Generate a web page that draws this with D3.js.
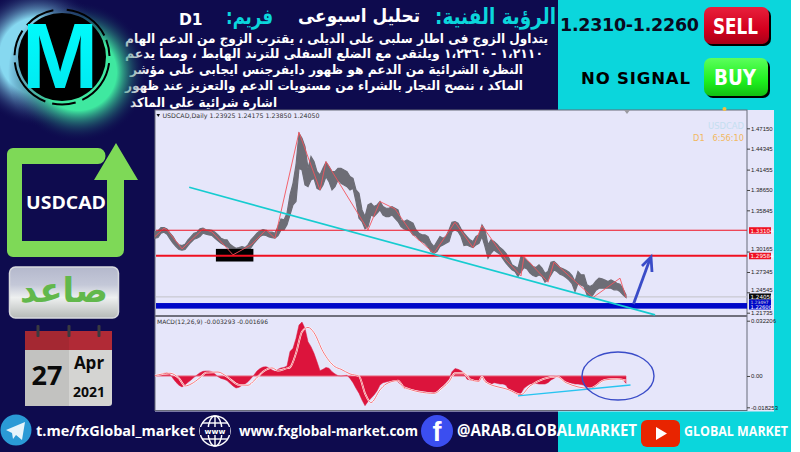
<!DOCTYPE html>
<html>
<head>
<meta charset="utf-8">
<script src="https://cdnjs.cloudflare.com/ajax/libs/d3/7.8.5/d3.min.js"></script>
<style>
  body { margin: 0; background: #fff; }
  svg { display: block; font-family: "DejaVu Sans", sans-serif; }
</style>
</head>
<body>
<div id="chart"></div>
<script>
// daily bars
var barHigh = [1.3292,1.3301,1.3347,1.3347,1.3329,1.3269,1.3223,1.3154,1.3108,1.3099,1.3117,1.3177,1.3223,1.3269,1.3283,1.3329,1.3338,1.3315,1.3315,1.3310,
  1.3283,1.3246,1.3200,1.3182,1.3177,1.3117,1.3085,1.3062,1.3071,1.3085,1.3071,1.3108,1.3177,1.3223,1.3269,1.3301,1.3319,1.3310,1.3283,1.3283,
  1.3269,1.3361,1.3466,1.3452,1.3544,1.3797,1.3957,1.4210,1.4646,1.4577,1.4462,1.4164,1.4325,1.4256,1.4118,1.4072,1.4164,1.4247,1.4187,1.4118,
  1.4118,1.4164,1.4164,1.4141,1.4118,1.4049,1.4026,1.3866,1.3820,1.3590,1.3498,1.3659,1.3682,1.3636,1.3659,1.3705,1.3636,1.3613,1.3613,1.3636,
  1.3613,1.3590,1.3452,1.3430,1.3452,1.3430,1.3407,1.3315,1.3269,1.3246,1.3246,1.3223,1.3131,1.3085,1.3154,1.3223,1.3200,1.3223,1.3315,1.3420,
  1.3430,1.3407,1.3329,1.3269,1.3223,1.3177,1.3154,1.3223,1.3246,1.3384,1.3315,1.3108,1.3177,1.3154,1.3117,1.3071,1.3039,1.2993,1.2925,1.2833,
  1.2810,1.2787,1.2948,1.2934,1.2888,1.2856,1.2810,1.2796,1.2833,1.2787,1.2718,1.2741,1.2870,1.2879,1.2842,1.2796,1.2778,1.2759,1.2732,1.2686,
  1.2603,1.2741,1.2695,1.2695,1.2557,1.2534,1.2557,1.2612,1.2649,1.2640,1.2622,1.2603,1.2626,1.2603,1.2580,1.2567,1.2502,1.2420];
var barLow = [1.3200,1.3209,1.3269,1.3283,1.3255,1.3191,1.3131,1.3085,1.3044,1.3035,1.3044,1.3099,1.3145,1.3186,1.3200,1.3223,1.3269,1.3255,1.3246,1.3237,
  1.3200,1.3163,1.3131,1.3108,1.3085,1.3053,1.2993,1.2980,1.2993,1.3007,1.2993,1.3026,1.3071,1.3131,1.3177,1.3223,1.3246,1.3237,1.3218,1.3209,
  1.3200,1.3237,1.3315,1.3315,1.3384,1.3521,1.3659,1.3705,1.4164,1.4141,1.3934,1.3911,1.4003,1.4026,1.3889,1.3866,1.3934,1.4049,1.3980,1.3866,
  1.3911,1.4003,1.3957,1.3934,1.3911,1.3866,1.3889,1.3705,1.3475,1.3430,1.3329,1.3361,1.3521,1.3498,1.3544,1.3590,1.3521,1.3498,1.3498,1.3521,
  1.3475,1.3430,1.3361,1.3329,1.3315,1.3301,1.3246,1.3237,1.3177,1.3154,1.3131,1.3085,1.3016,1.2993,1.3016,1.3085,1.3108,1.3131,1.3154,1.3292,
  1.3315,1.3292,1.3223,1.3099,1.3108,1.3085,1.3071,1.3108,1.3131,1.3223,1.3085,1.2925,1.2993,1.3039,1.3007,1.2980,1.2915,1.2856,1.2810,1.2764,
  1.2741,1.2672,1.2741,1.2796,1.2778,1.2718,1.2686,1.2672,1.2695,1.2672,1.2594,1.2626,1.2695,1.2764,1.2741,1.2704,1.2686,1.2658,1.2622,1.2576,
  1.2466,1.2580,1.2557,1.2534,1.2420,1.2383,1.2420,1.2484,1.2512,1.2512,1.2512,1.2512,1.2512,1.2489,1.2489,1.2466,1.2420,1.2383];

// zigzag drawn over the bars
var zigzagBar = [0,3,4,9,16,19,26,32,37,40,48,55,57,71,75,80,86,93,100,106,109,117,122,123,131,133,146,155,157];
var zigzagPrice = [1.3223,1.3338,1.3315,1.3053,1.3329,1.3287,1.2971,1.3108,1.3315,1.3200,1.4660,1.3866,1.4256,1.3315,1.3705,1.3604,1.3246,1.2993,1.3420,1.3071,1.3374,1.2902,1.2681,1.2948,1.2594,1.2870,1.2383,1.2649,1.2383];

// MACD histogram, one value per bar
var macdValues = [.0002,.0004,.0010,.0016,.0019,.0010,-.0014,-.0037,-.0054,-.0064,-.0052,-.0037,-.0023,-.0008,.0006,.0019,.0027,.0029,.0029,.0025,
  .0012,-.0004,-.0014,-.0019,-.0027,-.0043,-.0058,-.0070,-.0066,-.0054,-.0047,-.0033,-.0014,.0006,.0029,.0043,.0052,.0054,.0047,.0035,
  .0027,.0039,.0047,.0050,.0058,.0142,.0161,.0219,.0297,.0314,.0277,.0200,.0171,.0132,.0083,.0031,.0039,.0050,.0045,.0025,
  .0012,.0002,0,.0002,.0004,-.0014,-.0039,-.0072,-.0101,-.0140,-.0173,-.0149,-.0130,-.0111,-.0087,-.0052,-.0039,-.0035,-.0031,-.0029,
  -.0025,-.0033,-.0052,-.0072,-.0074,-.0076,-.0080,-.0083,-.0085,-.0089,-.0091,-.0093,-.0097,-.0101,-.0091,-.0072,-.0058,-.0039,-.0019,.0025,
  .0043,.0039,.0031,.0016,-.0019,-.0023,-.0027,-.0027,-.0033,0,-.0019,-.0043,-.0050,-.0039,-.0043,-.0047,-.0047,-.0054,-.0081,-.0091,
  -.0101,-.0109,-.0101,-.0072,-.0058,-.0047,-.0047,-.0043,-.0047,-.0047,-.0047,-.0039,-.0023,-.0014,0,-.0014,-.0027,-.0033,-.0039,-.0043,
  -.0047,-.0047,-.0050,-.0054,-.0066,-.0070,-.0066,-.0058,-.0043,-.0027,-.0019,-.0016,-.0016,-.0016,-.0016,-.0017,-.0023,-.0043];
var signalBar = [0,5,8,10,12,15,17,21,24,28,31,33,36,39,41,44,45,47,49,51,53,56,60,62,65,68,70,72,75,77,81,83,93,96,98,100,103,105,108,109,110,118,122,125,134,137,145,150,154,157];
var signalValues = [.0002,.0016,-.0014,-.0058,-.0047,-.0010,.0019,.0023,-.0004,-.0052,-.0054,-.0027,.0025,.0047,.0031,.0045,.0050,.0132,.0258,.0283,.0252,.0142,.0054,.0039,.0012,-.0002,-.0101,-.0155,-.0081,-.0047,-.0027,-.0066,-.0101,-.0066,-.0033,.0016,.0016,-.0019,-.0031,-.0004,-.0033,-.0081,-.0109,-.0058,-.0004,-.0039,-.0072,-.0023,-.0017,-.0027];

// axis ticks and levels
var priceTicks = [1.4715,1.44345,1.41455,1.3865,1.35845,1.30165,1.27345,1.24545,1.21735];
var macdTicks = [0.032206,0,-0.018253];
var macdTickLabels = ["0.032206","0.00","-0.018253"];
var redLevels = [1.33104,1.29584];
var redWidths = [1.1,1.8];
var priceBoxes = [1.33104,1.29584];
var supportLevel = 1.2268;
var lastPrice = 1.2405;

// ends of the drawn trend lines
var trendBars = [11.4,166.7];
var trendPrices = [1.3902,1.2144];
var macdTrendBars = [121,158.5];
var macdTrendValues = [-.0116,-.0053];

// texts
var headerLines = [
  "يتداول الزوج فى اطار سلبى على الديلى ، يقترب الزوج من الدعم الهام",
  "١،٢١١٠ - ١،٢٣٦٠ ويلتقى مع الضلع السفلى للترند الهابط ، ومما يدعم",
  "النظرة الشرائية من الدعم هو ظهور دايفرجنس ايجابى على مؤشر",
  "الماكد ، ننصح التجار بالشراء من مستويات الدعم والتعزيز عند ظهور",
  "اشارة شرائية على الماكد"
];

var navy = "#0e0b4e", teal = "#0bd6dc", lavender = "#e6e6fa", green = "#7ed957";

var svg = d3.select("#chart").append("svg").attr("width", 800).attr("height", 452);
var defs = svg.append("defs");

function addGradient(id, stops, x2, y2) {
  var g = defs.append("linearGradient").attr("id", id)
    .attr("x1", 0).attr("y1", 0).attr("x2", x2).attr("y2", y2);
  stops.forEach(function(s) {
    g.append("stop").attr("offset", s[0]).attr("stop-color", s[1]);
  });
}
addGradient("sellFill", [[0, "#e8203c"], [.6, "#d4001e"], [1, "#a80018"]], 0, 1);
addGradient("buyFill", [[0, "#5cff5c"], [.6, "#1ef01e"], [1, "#12c012"]], 0, 1);
addGradient("logoFill", [[0, "#b4b8cc"], [.35, "#c4c8d8"], [.6, "#eef0f0"], [1, "#b6bab8"]], 0, 1);
addGradient("mFill", [[0, "#00ffff"], [1, "#00e6ee"]], 0, 1);

var glowBlue = defs.append("radialGradient").attr("id", "glowBlue");
glowBlue.append("stop").attr("offset", .55).attr("stop-color", "#86d8f0");
glowBlue.append("stop").attr("offset", 1).attr("stop-color", navy).attr("stop-opacity", 0);
var glowGreen = defs.append("radialGradient").attr("id", "glowGreen");
glowGreen.append("stop").attr("offset", .55).attr("stop-color", "#3fe8a0");
glowGreen.append("stop").attr("offset", 1).attr("stop-color", navy).attr("stop-opacity", 0);

// backgrounds
svg.append("rect").attr("width", 791).attr("height", 452).attr("fill", navy);
svg.append("rect").attr("x", 558).attr("width", 233).attr("height", 452).attr("fill", teal);

// main panel
svg.append("rect").attr("x", 155).attr("y", 110).attr("width", 619).attr("height", 301.5)
  .attr("fill", lavender);
svg.append("rect").attr("x", 155).attr("y", 110).attr("width", 592).attr("height", 300.5)
  .attr("fill", "none").attr("stroke", "#666a78").attr("stroke-width", 1);
svg.append("rect").attr("x", 155).attr("y", 315).attr("width", 592).attr("height", 2).attr("fill", "#70707c");

var x = d3.scaleLinear().domain([0, 157]).range([155, 626]);
var y = d3.scaleLinear().domain([1.4715, 1.21735]).range([128.3, 312.7]);
var yMacd = d3.scaleLinear().domain([0.032206, -0.018253]).range([320.7, 407.3]);
var bars = d3.range(barHigh.length);

var priceAxis = d3.axisRight(y).tickValues(priceTicks).tickSize(3).tickFormat(d3.format(".5f"));
var macdAxis = d3.axisRight(yMacd).tickValues(macdTicks).tickSize(3)
  .tickFormat(function(d, i) { return macdTickLabels[i]; });
[svg.append("g").attr("transform", "translate(747,0)").call(priceAxis),
 svg.append("g").attr("transform", "translate(747,0)").call(macdAxis)].forEach(function(g) {
  g.select(".domain").remove();
  g.selectAll("text").attr("x", 4).attr("font-size", 6).attr("fill", "#222");
  g.selectAll("line").attr("stroke", "#444");
});
// these two sit just above the boxes on the scale
svg.selectAll("g.tick").filter(function(d) { return d === 1.30165 || d === 1.24545; })
  .selectAll("text").attr("dy", "-.1em");

// price pane
svg.append("line").attr("x1", 156).attr("x2", 747).attr("y1", y(lastPrice) + 1).attr("y2", y(lastPrice) + 1)
  .attr("stroke", "#c2c2c8").attr("stroke-width", 1);

// the bars run together into one band at this width
var barBand = d3.area()
  .x(function(d) { return x(d); })
  .y0(function(d) { return y(barLow[d]); })
  .y1(function(d) { return y(barHigh[d]); });
svg.append("path").attr("d", barBand(bars)).attr("fill", "#6d6d76")
  .attr("stroke", "#6d6d76").attr("stroke-width", 1.2).attr("stroke-linejoin", "miter");

// black box hiding the old low
svg.append("rect").attr("x", x(20.3)).attr("width", x(32.8) - x(20.3))
  .attr("y", y(1.3053)).attr("height", y(1.2879) - y(1.3053)).attr("fill", "#000");

var zigzagLine = d3.line()
  .x(function(d, i) { return x(zigzagBar[i]); })
  .y(function(d) { return y(d); });
svg.append("path").attr("d", zigzagLine(zigzagPrice))
  .attr("fill", "none").attr("stroke", "#f4545c").attr("stroke-width", .9);

svg.selectAll(".level").data(redLevels).enter().append("line").attr("class", "level")
  .attr("x1", 156).attr("x2", 747)
  .attr("y1", function(d) { return y(d); }).attr("y2", function(d) { return y(d); })
  .attr("stroke", "#f01020").attr("stroke-width", function(d, i) { return redWidths[i]; });

svg.append("rect").attr("x", 156).attr("width", 591).attr("y", y(supportLevel) - 2.8).attr("height", 5.6)
  .attr("fill", "#0008c8");

svg.append("line").attr("x1", x(trendBars[0])).attr("x2", x(trendBars[1]))
  .attr("y1", y(trendPrices[0])).attr("y2", y(trendPrices[1]))
  .attr("stroke", "#16ccd0").attr("stroke-width", 1.7);

// blue arrow up from the support
var arrowColor = "#3a4cc8";
svg.append("line").attr("x1", 633.5).attr("y1", 304).attr("x2", 650).attr("y2", 259)
  .attr("stroke", arrowColor).attr("stroke-width", 2.8);
svg.append("path").attr("d", "M642,266L651,257L652,272").attr("fill", "none")
  .attr("stroke", arrowColor).attr("stroke-width", 2.8);

// price boxes on the scale
priceBoxes.forEach(function(d) {
  svg.append("rect").attr("x", 749).attr("y", y(d) - 3).attr("width", 22).attr("height", 6.5).attr("fill", "#f01020");
  svg.append("text").attr("x", 750.5).attr("y", y(d) + 2.4).attr("font-size", 5.6).attr("fill", "#fff")
    .text(d3.format(".5f")(d));
});
svg.append("rect").attr("x", 749).attr("y", 293.5).attr("width", 22).attr("height", 6).attr("fill", "#0a0a0a");
svg.append("text").attr("x", 750.5).attr("y", 298.6).attr("font-size", 5.6).attr("fill", "#fff").text("1.24050");
svg.append("rect").attr("x", 749).attr("y", 299.5).attr("width", 22).attr("height", 10).attr("fill", "#0008c8");
svg.append("text").attr("x", 750.5).attr("y", 304).attr("font-size", 4.4).attr("fill", "#ddd").text("1.23497");
svg.append("text").attr("x", 750.5).attr("y", 308.8).attr("font-size", 5.2).attr("fill", "#fff").text("1.22600");

svg.append("path").attr("d", "M156.5,114l3.5,0l-1.7,3z").attr("fill", "#111");
svg.append("text").attr("x", 162.5).attr("y", 118).attr("font-size", 6.3).attr("fill", "#333")
  .text("USDCAD,Daily  1.23925 1.24175 1.23850 1.24050");
svg.append("text").attr("x", 744).attr("y", 129).attr("text-anchor", "end").attr("font-size", 8.4)
  .attr("fill", "#c4def0").text("USDCAD");
svg.append("text").attr("x", 744).attr("y", 141).attr("text-anchor", "end").attr("font-size", 8.2)
  .attr("fill", "#f2b860").attr("xml:space", "preserve").text("D1   6:56:10");
svg.append("text").attr("x", 157).attr("y", 324).attr("font-size", 6).attr("fill", "#333")
  .text("MACD(12,26,9) -0.003293 -0.001696");

// small marks at the top edge of the panel
svg.append("path").attr("d", "M624,110h6l-3,4z").attr("fill", "#9a9aa0");
svg.append("circle").attr("cx", 724.5).attr("cy", 109).attr("r", 2).attr("fill", "#f2c040");

// MACD pane, the histogram is one solid block
var macdArea = d3.area()
  .x(function(d, i) { return x(i); })
  .y0(yMacd(0))
  .y1(function(d) { return yMacd(d); });
svg.append("path").attr("d", macdArea(macdValues)).attr("fill", "#dc143c")
  .attr("stroke", "#dc143c").attr("stroke-width", .5);
svg.append("line").attr("x1", 155).attr("x2", 626).attr("y1", yMacd(0)).attr("y2", yMacd(0))
  .attr("stroke", "#f08898").attr("stroke-width", .7);

var signalLine = d3.line().curve(d3.curveMonotoneX)
  .x(function(d, i) { return x(signalBar[i]); })
  .y(function(d) { return yMacd(d); });
svg.append("path").attr("d", signalLine(signalValues)).attr("fill", "none")
  .attr("stroke", "#fff").attr("stroke-width", 1.8);
svg.append("path").attr("d", signalLine(signalValues)).attr("fill", "none")
  .attr("stroke", "#f0505c").attr("stroke-width", .8);

svg.append("line").attr("x1", x(macdTrendBars[0])).attr("x2", x(macdTrendBars[1]))
  .attr("y1", yMacd(macdTrendValues[0])).attr("y2", yMacd(macdTrendValues[1]))
  .attr("stroke", "#28c4f0").attr("stroke-width", 1.4);
svg.append("ellipse").attr("cx", 618).attr("cy", 376).attr("rx", 36).attr("ry", 24)
  .attr("fill", "none").attr("stroke", arrowColor).attr("stroke-width", 1.4);

// header text
function arabic(text, right, baseline, size, width, color, weight) {
  return svg.append("text").attr("direction", "rtl").attr("text-anchor", "start")
    .attr("x", right).attr("y", baseline).attr("font-size", size)
    .attr("font-weight", weight || "bold").attr("fill", color)
    .attr("textLength", width).attr("lengthAdjust", "spacingAndGlyphs").text(text);
}
arabic("الرؤية الفنية:", 556, 24, 22, 121, teal);
arabic("تحليل اسبوعى", 420, 22, 18, 122, "#fff");
arabic("فريم:", 273, 24, 22, 47, teal);
svg.append("text").attr("x", 179).attr("y", 25).attr("font-size", 15.5).attr("font-weight", "bold")
  .attr("fill", "#fff").text("D1");

var lineRights = [548, 543, 523, 523, 277];
var lineWidths = [423, 418, 393, 398, 147];
var lineBases = [43, 58, 74, 90, 107];
headerLines.forEach(function(t, i) {
  arabic(t, lineRights[i], lineBases[i], 13, lineWidths[i], "#fff");
});

// signal side
svg.append("text").attr("x", 560).attr("y", 31).attr("font-size", 17.5).attr("font-weight", "bold")
  .attr("fill", "#0a0a20").attr("textLength", 139).text("1.2310-1.2260");
svg.append("text").attr("x", 581).attr("y", 84).attr("font-size", 16.5).attr("font-weight", "bold")
  .attr("fill", "#000").attr("textLength", 109).text("NO SIGNAL");

function button(label, bx, by, w, h, fill, textW) {
  svg.append("rect").attr("x", bx + 2).attr("y", by + 2).attr("width", w).attr("height", h).attr("rx", 7).attr("fill", "#000");
  svg.append("rect").attr("x", bx).attr("y", by).attr("width", w).attr("height", h).attr("rx", 7).attr("fill", fill);
  svg.append("text").attr("x", bx + w / 2 - 1).attr("y", by + h / 2 + 8).attr("text-anchor", "middle")
    .attr("font-size", 21).attr("font-weight", "bold").attr("fill", "#fff")
    .attr("textLength", textW).attr("lengthAdjust", "spacingAndGlyphs").text(label);
}
button("SELL", 704, 7, 65, 37, "url(#sellFill)", 45);
button("BUY", 704, 58, 64, 38, "url(#buyFill)", 42);

// left column: logo
svg.append("circle").attr("cx", 38).attr("cy", 56).attr("r", 70).attr("fill", "url(#glowBlue)");
svg.append("circle").attr("cx", 78).attr("cy", 72).attr("r", 70).attr("fill", "url(#glowGreen)");
svg.append("circle").attr("cx", 62).attr("cy", 57).attr("r", 44).attr("fill", "#000");
var ringArc = d3.arc();
var ringSegments = [[.1, 1.1], [1.2, 1.55], [1.7, 2.7], [2.85, 3.35], [3.5, 4.6], [4.75, 5.3], [5.45, 6.1]];
ringSegments.forEach(function(s) {
  svg.append("path").attr("transform", "translate(62,57)")
    .attr("d", ringArc({ innerRadius: 46.5, outerRadius: 48.5, startAngle: s[0], endAngle: s[1] }))
    .attr("fill", "#000");
});
svg.append("text").attr("x", 60).attr("y", 88).attr("text-anchor", "middle")
  .attr("font-family", "Liberation Sans").attr("font-weight", "bold").attr("font-size", 92)
  .attr("fill", "url(#mFill)").text("M");

// left column: pair arrow
svg.append("path").attr("fill", green)
  .attr("d", "M13,148H98a7.5,8 0 0 1 0,16H22V241H107V180H94L116,143L138,180H124V250a7,7 0 0 1 -7,7H13a6,6 0 0 1 -6,-6V154a6,6 0 0 1 6,-6Z");
svg.append("text").attr("x", 26).attr("y", 209).attr("font-family", "Open Sans").attr("font-weight", "bold")
  .attr("font-size", 18.5).attr("fill", "#fff").attr("textLength", 80).attr("lengthAdjust", "spacingAndGlyphs").text("USDCAD");

// left column: broker logo
svg.append("rect").attr("x", 9.5).attr("y", 267).attr("width", 109).attr("height", 51).attr("rx", 6)
  .attr("fill", "url(#logoFill)").attr("stroke", "#d8dade").attr("stroke-width", 1.5);
svg.append("text").attr("x", 64).attr("y", 302).attr("text-anchor", "middle").attr("direction", "rtl")
  .attr("font-size", 34).attr("font-weight", "bold").attr("fill", "#62b84c")
  .attr("textLength", 88).attr("lengthAdjust", "spacingAndGlyphs").text("صاعد");

// left column: calendar
svg.append("rect").attr("x", 25).attr("y", 331).attr("width", 87).attr("height", 75).attr("rx", 3).attr("fill", "#d4d4d2");
svg.append("rect").attr("x", 25).attr("y", 350).attr("width", 44).attr("height", 56).attr("fill", "#c2c2c0");
svg.append("rect").attr("x", 25).attr("y", 331).attr("width", 87).attr("height", 19).attr("fill", "#b12a36");
svg.append("rect").attr("x", 25).attr("y", 331).attr("width", 44).attr("height", 19).attr("fill", "#a42832");
[38, 69, 99].forEach(function(cx) {
  svg.append("rect").attr("x", cx - 1.5).attr("y", 325).attr("width", 3).attr("height", 12).attr("rx", 1).attr("fill", "#3a3a40");
});
svg.append("text").attr("x", 47).attr("y", 385).attr("text-anchor", "middle").attr("font-family", "Open Sans")
  .attr("font-weight", "bold").attr("font-size", 27).attr("fill", "#0a0a0a").text("27");
svg.append("text").attr("x", 89).attr("y", 369).attr("text-anchor", "middle").attr("font-family", "Open Sans")
  .attr("font-weight", "bold").attr("font-size", 17).attr("fill", "#0a0a0a").text("Apr");
svg.append("text").attr("x", 89).attr("y", 397).attr("text-anchor", "middle").attr("font-family", "Open Sans")
  .attr("font-weight", "bold").attr("font-size", 14).attr("fill", "#0a0a0a").text("2021");

// footer
function footerText(label, fx, w, size) {
  svg.append("text").attr("x", fx).attr("y", 436).attr("font-family", "Open Sans").attr("font-weight", "bold")
    .attr("font-size", size).attr("fill", "#fff").attr("textLength", w).attr("lengthAdjust", "spacingAndGlyphs").text(label);
}
svg.append("circle").attr("cx", 16).attr("cy", 430).attr("r", 15.5).attr("fill", "#2a9ad6");
svg.append("path").attr("d", "M6,430L25,422L22,440L16,435L13,439L12,433Z").attr("fill", "#e6f4fb");
footerText("t.me/fxGlobal_market", 36, 159, 14.5);

var globe = svg.append("g").attr("fill", "none").attr("stroke", "#fff").attr("stroke-width", 1.4);
globe.append("circle").attr("cx", 215).attr("cy", 431).attr("r", 15);
globe.append("ellipse").attr("cx", 215).attr("cy", 431).attr("rx", 7).attr("ry", 15);
globe.append("line").attr("x1", 215).attr("x2", 215).attr("y1", 416).attr("y2", 446);
globe.append("line").attr("x1", 202).attr("x2", 228).attr("y1", 423).attr("y2", 423);
globe.append("line").attr("x1", 202).attr("x2", 228).attr("y1", 439).attr("y2", 439);
svg.append("rect").attr("x", 200).attr("y", 427).attr("width", 30).attr("height", 8).attr("fill", navy);
svg.append("text").attr("x", 215).attr("y", 434).attr("text-anchor", "middle").attr("font-size", 7.5)
  .attr("font-weight", "bold").attr("fill", "#fff").text("www");
footerText("www.fxglobal-market.com", 239, 179, 14.5);

svg.append("circle").attr("cx", 437).attr("cy", 431).attr("r", 16).attr("fill", "#3b4ef0");
svg.append("text").attr("x", 437).attr("y", 441).attr("text-anchor", "middle").attr("font-family", "Liberation Sans")
  .attr("font-weight", "bold").attr("font-size", 27).attr("fill", "#fff").text("f");
footerText("@ARAB.GLOBALMARKET", 457, 180, 16);

svg.append("rect").attr("x", 641).attr("y", 420).attr("width", 39).attr("height", 27).attr("rx", 6).attr("fill", "#e82400");
svg.append("path").attr("d", "M656,427L667,433.5L656,440Z").attr("fill", "#fff");
footerText("GLOBAL MARKET", 684, 104, 13.5);
</script>
</body>
</html>
